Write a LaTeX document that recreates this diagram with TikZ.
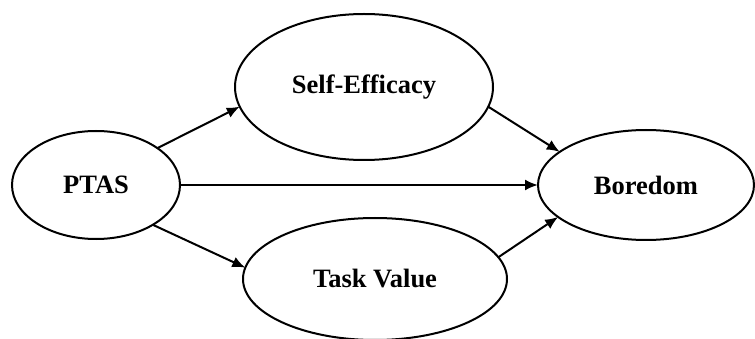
\documentclass[tikz,border=0pt]{standalone}
\usepackage{fontspec}
\setmainfont{Liberation Serif}
\usetikzlibrary{shapes.geometric,arrows.meta}
\tikzset{
  latent/.style={ellipse,draw=black,line width=2pt,inner sep=0pt,outer sep=0pt,
    font=\fontsize{26.5}{30}\selectfont\bfseries},
  path/.style={line width=2pt,-{Latex[length=13pt,width=11pt]}}
}
\begin{document}
\begin{tikzpicture}[x=1pt,y=-1pt]
\useasboundingbox (0,0) rectangle (755,339);
\node[latent,minimum width=168pt,minimum height=108pt] (ptas) at (96,185) {PTAS};
\node[latent,minimum width=258pt,minimum height=146pt] (se) at (364,87) {Self-Efficacy};
\node[latent,minimum width=264pt,minimum height=122pt] (tv) at (375,279) {Task Value};
\node[latent,minimum width=216pt,minimum height=110pt] (bor) at (646,185) {Boredom};
\draw[path] (ptas.31) -- (se.189.5);
\draw[path] (ptas.east) -- (bor.west);
\draw[path] (ptas.-35.7) -- (tv.175);
\draw[path] (se.-9) -- (bor.159.5);
\draw[path] (tv.10) -- (bor.200.3);
\end{tikzpicture}
\end{document}
